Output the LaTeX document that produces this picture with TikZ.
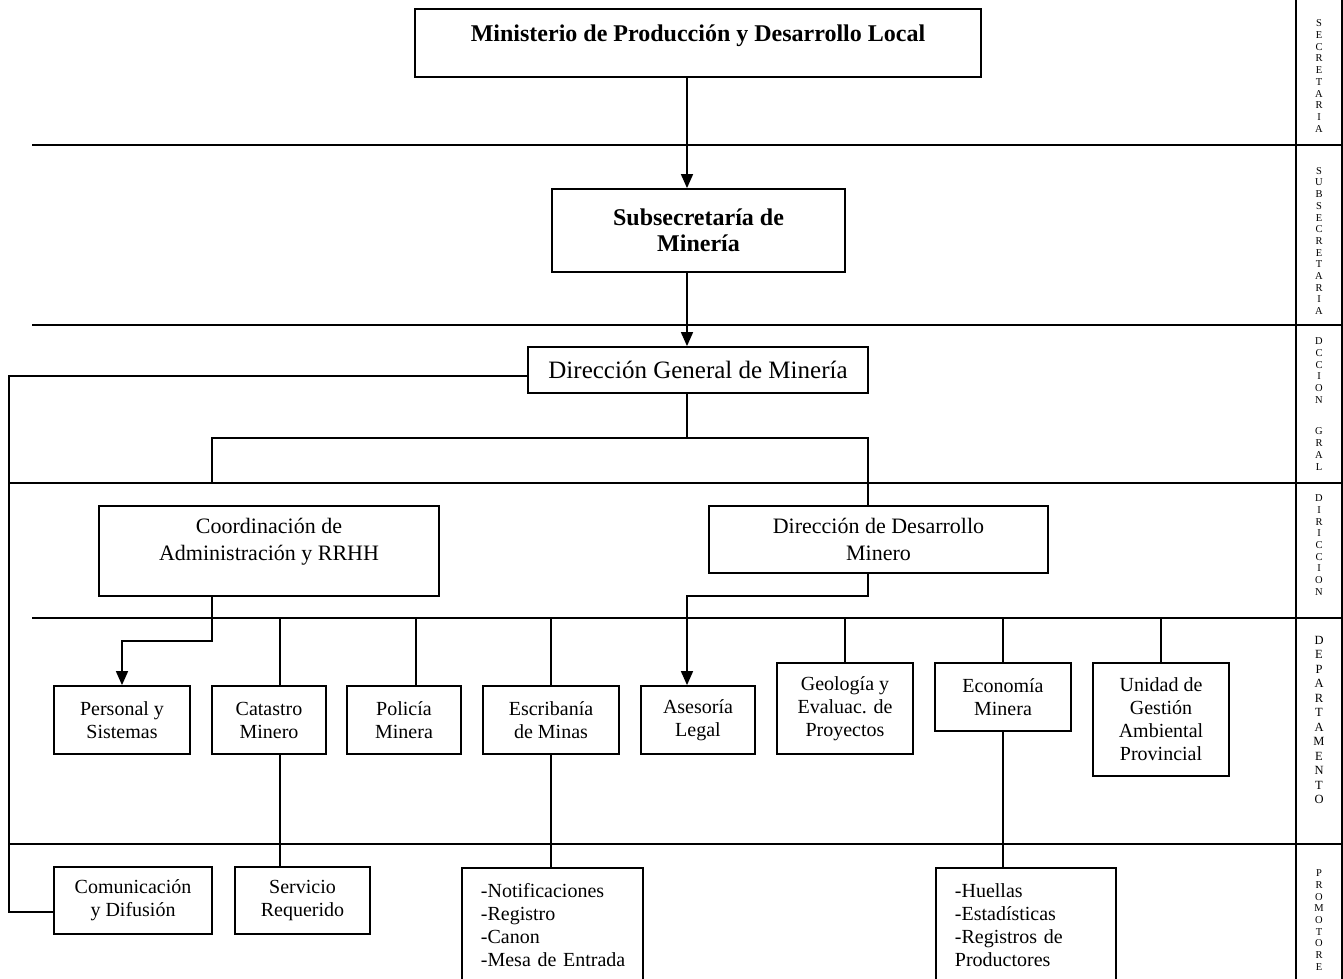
\documentclass[tikz,border=0pt]{standalone}
\usepackage{fontspec}
\setmainfont{Liberation Serif}
\usetikzlibrary{arrows.meta,positioning}

\newcommand\fdepto{\fontsize{20}{23}\selectfont}
\newcommand\fdir{\fontsize{22}{27}\selectfont}
\newcommand\fdgm{\fontsize{25}{30}\selectfont}
\newcommand\ftop{\fontsize{24}{26}\selectfont\bfseries}
\newcommand\fcol{\fontsize{10.5}{11.7}\selectfont}
\newcommand\fcolg{\fontsize{12.5}{14.5}\selectfont}

\begin{document}
\begin{tikzpicture}[x=1pt,y=-1pt,
    caja/.style={draw,line width=1.8pt,align=center,inner sep=0pt,font=\fdepto},
    tam/.style 2 args={minimum width=#1pt,minimum height=#2pt},
    lista/.style={caja,anchor=north west,align=left,text width=143pt,
        inner xsep=19pt,inner ysep=14pt,minimum height=115pt},
    linea/.style={line width=1.6pt},
    flecha/.style={linea,-{Triangle[length=14pt,width=12pt]}},
    banda/.style={line width=1.6pt},
    rotulo/.style={align=center,inner sep=0pt,font=\fcol}]
    \clip (0,0) rectangle (1343,979);

    % bandas de nivel y columna de la derecha
    \foreach \y/\x in {145/32,325/32,483/9,618/32,844/9}
        \draw[banda] (\x,\y) -- (1342,\y);
    \draw[banda] (1296,0) -- (1296,979);
    \draw[banda] (1342,0) -- (1342,979);

    \node[rotulo] (secr) at (1319,76) {S\\E\\C\\R\\E\\T\\A\\R\\I\\A};
    \node[rotulo] (subs) at (1319,241) {S\\U\\B\\S\\E\\C\\R\\E\\T\\A\\R\\I\\A};
    \node[rotulo] (dgral) at (1319,404) {D\\C\\C\\I\\O\\N\\[20pt]G\\R\\A\\L};
    \node[rotulo] (dirc) at (1319,545) {D\\I\\R\\I\\C\\C\\I\\O\\N};
    \node[rotulo,font=\fcolg] (depto) at (1319,720) {D\\E\\P\\A\\R\\T\\A\\M\\E\\N\\T\\O};
    \node[rotulo] (prom) at (1319,920) {P\\R\\O\\M\\O\\T\\O\\R\\E};

    % cajas
    \node[caja,tam={566}{68},font=\ftop,text depth=20pt] (min) at (698,43) {Ministerio de Producción y Desarrollo Local};
    \node[caja,tam={293}{83},font=\ftop] (sub) at (698.5,230.5) {Subsecretaría de\\Minería};
    \node[caja,tam={340}{46},font=\fdgm] (dgm) at (698,370) {Dirección General de Minería};
    \node[caja,tam={340}{90},font=\fdir,text depth=23pt] (coord) at (269,551) {Coordinación de\\Administración y RRHH};
    \node[caja,tam={339}{67},font=\fdir] (dirdes) at (878.5,539.5) {Dirección de Desarrollo\\Minero};

    \node[caja,tam={136}{68}] (personal) at (122,720) {Personal y\\Sistemas};
    \node[caja,tam={114}{68}] (catastro) at (269,720) {Catastro\\Minero};
    \node[caja,tam={114}{68}] (policia) at (404,720) {Policía\\Minera};
    \node[caja,tam={136}{68}] (escribania) at (551,720) {Escribanía\\de Minas};
    \node[caja,tam={114}{68}] (asesoria) at (698,720) {Asesoría\\Legal};
    \node[caja,tam={136}{91}] (geologia) at (845,708.5) {Geología y\\Evaluac. de\\Proyectos};
    \node[caja,tam={136}{68}] (economia) at (1003,697) {Economía\\Minera};
    \node[caja,tam={136}{113}] (unidad) at (1161,719.5) {Unidad de\\Gestión\\Ambiental\\Provincial};

    \node[caja,tam={158}{67}] (comunicacion) at (133,900.5) {Comunicación\\y Difusión};
    \node[caja,tam={135}{67}] (servicio) at (302.5,900.5) {Servicio\\Requerido};
    \node[lista] (notif) at (461,867) {-Notificaciones\\-Registro\\-Canon\\\mbox{-Mesa de Entrada}};
    \node[lista,text width=142pt] (huellas) at (935,867) {-Huellas\\-Estadísticas\\-Registros de\\Productores};

    % puntos de paso
    \coordinate (tronco) at (687,0);
    \coordinate (ramal) at (0,438);
    \coordinate (ramaI) at (212,483);
    \coordinate (ramaD) at (868,0);
    \coordinate (codoA) at (122,641);
    \coordinate (codoB) at (687,596);
    \coordinate (izq) at (9,912);
    \coordinate (bus) at (0,618);

    % conexiones
    \draw[flecha] (min.south -| tronco) -- (sub.north -| tronco);
    \draw[flecha] (sub.south -| tronco) -- (dgm.north -| tronco);
    \draw[linea] (dgm.south -| tronco) -- (tronco |- ramal);
    \draw[linea] (ramaI) -- (ramaI |- ramal) -- (ramaD |- ramal) -- (dirdes.north -| ramaD);
    \draw[linea] ([yshift=-6pt]dgm.west) -| (izq) -- (izq -| comunicacion.west);
    \draw[flecha] (coord.south -| ramaI) |- (codoA) -- (personal.north);
    \draw[flecha] (dirdes.south -| ramaD) |- (codoB) -- (asesoria.north -| codoB);
    \foreach \n/\d in {catastro/11,policia/12,escribania/0,geologia/0,economia/0,unidad/0} {
        \path (\n.north) ++(\d,0) coordinate (arriba);
        \draw[linea] (arriba) -- (arriba |- bus);
    }
    \path (catastro.south) ++(11,0) coordinate (abajo);
    \draw[linea] (abajo) -- (abajo |- servicio.north);
    \draw[linea] (escribania.south) -- (escribania.south |- notif.north);
    \draw[linea] (economia.south) -- (economia.south |- huellas.north);
\end{tikzpicture}
\end{document}
